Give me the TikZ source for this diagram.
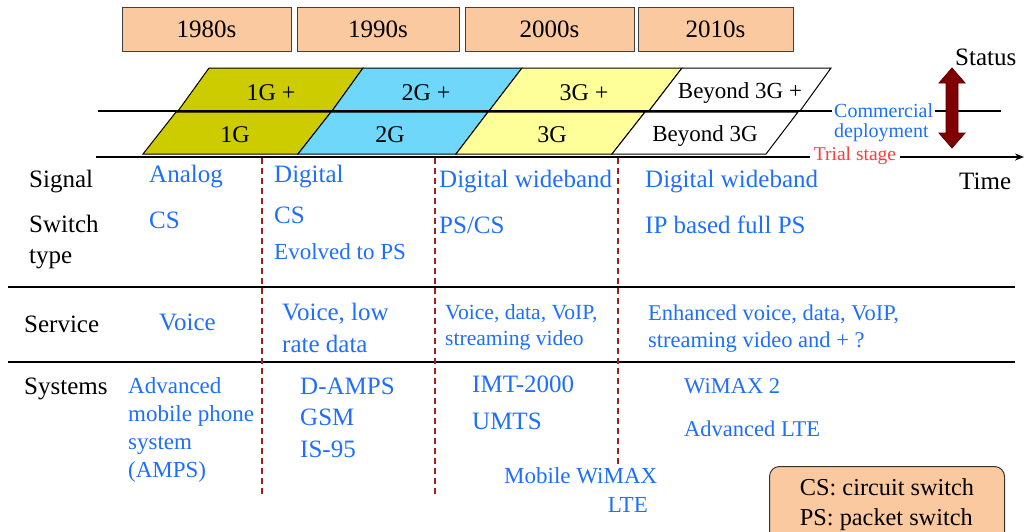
\documentclass[tikz,border=0pt]{standalone}
\usepackage{fontspec}
\setmainfont{Liberation Serif}
\usetikzlibrary{arrows.meta}
\definecolor{decadefill}{RGB}{251,201,160}
\definecolor{onegfill}{RGB}{204,204,0}
\definecolor{twogfill}{RGB}{110,215,250}
\definecolor{threegfill}{RGB}{255,255,153}
\definecolor{txtblue}{RGB}{30,110,255}
\definecolor{trialred}{RGB}{255,60,60}
\definecolor{sepred}{RGB}{160,30,30}
\definecolor{statusred}{RGB}{128,0,0}
\begin{document}
\begin{tikzpicture}[x=1pt,y=-1pt,
    decade/.style ={draw=black!75, fill=decadefill, line width=1pt, minimum height=44pt, font=\fontsize{25}{28}\selectfont},
    gen/.style ={draw=black, line width=1pt},
    genlabel/.style ={anchor=base, inner sep=0pt, font=\fontsize{24}{28}\selectfont},
    rowlabel/.style ={anchor=base west, inner sep=0pt, align=left, font=\fontsize{25}{31}\selectfont},
    blue/.style ={anchor=base west, inner sep=0pt, align=left, text=txtblue, font=\fontsize{25}{31}\selectfont},
    bluesmall/.style ={anchor=base west, inner sep=0pt, align=left, text=txtblue, font=\fontsize{22.5}{27}\selectfont},
    separator/.style ={sepred, line width=1.8pt, dash pattern=on 6pt off 4pt}]
   \useasboundingbox (0,0) rectangle (1025,531);
   % decades
   \node[decade, minimum width=169pt] (d80) at (206.5,29) {1980s};
   \node[decade, minimum width=162pt] (d90) at (378,29)   {1990s};
   \node[decade, minimum width=169pt] (d00) at (549.5,29) {2000s};
   \node[decade, minimum width=155pt] (d10) at (715.5,29) {2010s};
   % generations
   \draw[gen, fill=onegfill]   (209,68) -- (363,68) -- (332,111) -- (178,111) -- cycle;
   \draw[gen, fill=twogfill]   (363,68) -- (522,68) -- (489,111) -- (332,111) -- cycle;
   \draw[gen, fill=threegfill] (522,68) -- (682,68) -- (649,111) -- (489,111) -- cycle;
   \draw[gen, fill=white]      (682,68) -- (831,68) -- (800,111) -- (649,111) -- cycle;
   \draw[gen, fill=onegfill]   (176,112) -- (331,112) -- (298,154) -- (143,154) -- cycle;
   \draw[gen, fill=twogfill]   (331,112) -- (488,112) -- (456,154) -- (298,154) -- cycle;
   \draw[gen, fill=threegfill] (488,112) -- (645,112) -- (612,154) -- (456,154) -- cycle;
   \draw[gen, fill=white]      (645,112) -- (798,112) -- (766,154) -- (612,154) -- cycle;
   \node[genlabel] (g1p) at (271,100) {1G +};
   \node[genlabel] (g2p) at (426,100) {2G +};
   \node[genlabel] (g3p) at (584,100) {3G +};
   \node[genlabel, font=\fontsize{23}{28}\selectfont] (g4p) at (740,98) {Beyond 3G +};
   \node[genlabel] (g1) at (235,142) {1G};
   \node[genlabel] (g2) at (390,142) {2G};
   \node[genlabel] (g3) at (552,142) {3G};
   \node[genlabel, font=\fontsize{23}{28}\selectfont] (g4) at (705,141) {Beyond 3G};
   % status and time
   \coordinate (c0) at (98,111);
   \coordinate (c1) at (1001,111);
   \draw[line width=2pt] (c0) -- (c1);
   \coordinate (t0) at (96,157);
   \coordinate (t1) at (1024,157);
   \draw[line width=2pt, -{Stealth[length=9pt,width=7pt]}] (t0) -- (t1);
   \node[bluesmall, fill=white, inner xsep=2pt, inner ysep=1pt, font=\fontsize{20}{20}\selectfont] (comm) at (832,137) {Commercial\\deployment};
   \node[anchor=base, fill=white, inner xsep=4pt, inner ysep=1pt, text=trialred, font=\fontsize{19.5}{20}\selectfont] (trial) at (855,160) {Trial stage};
   \draw[fill=statusred, draw=statusred!70!black, line width=0.8pt]
      (952,68) -- (965,83) -- (958,83) -- (958,133) -- (965,133) -- (952,148)
      -- (939,133) -- (946,133) -- (946,83) -- (939,83) -- cycle;
   \node[rowlabel] (status) at (955,65) {Status};
   \node[rowlabel] (time) at (959,189) {Time};
   % table
   \draw[line width=1.5pt] (8,287) -- (1015,287);
   \draw[line width=1.5pt] (8,362) -- (1015,362);
   \draw[separator] (262,158) -- (262,497);
   \draw[separator] (435,158) -- (435,494);
   \draw[separator] (618,158) -- (618,467);
   \node[rowlabel] (signal) at (29,187) {Signal};
   \node[rowlabel] (switch) at (29,263) {Switch\\type};
   \node[rowlabel] (service) at (24,332) {Service};
   \node[rowlabel] (systems) at (24,394) {Systems};
   % 1G
   \node[blue] (sig1) at (149,182) {Analog};
   \node[blue] (sw1) at (149,228) {CS};
   \node[blue] (srv1) at (159,330) {Voice};
   \node[bluesmall, font=\fontsize{23}{28}\selectfont] (sys1) at (128,477) {Advanced\\mobile phone\\system\\(AMPS)};
   % 2G
   \node[blue] (sig2) at (274,182) {Digital};
   \node[blue] (sw2) at (274,223) {CS};
   \node[bluesmall, font=\fontsize{23}{28}\selectfont] (evo2) at (274,259) {Evolved to PS};
   \node[blue, font=\fontsize{25}{32}\selectfont] (srv2) at (282,352) {Voice, low\\rate data};
   \node[blue, font=\fontsize{25}{31.5}\selectfont] (sys2) at (300,457) {D-AMPS\\GSM\\IS-95};
   % 3G
   \node[blue] (sig3) at (439,187) {Digital wideband};
   \node[blue] (sw3) at (439,233) {PS/CS};
   \node[bluesmall, font=\fontsize{21.6}{26}\selectfont] (srv3) at (445,345) {Voice, data, VoIP,\\streaming video};
   \node[blue] (imt) at (472,392) {IMT-2000};
   \node[blue] (umts) at (472,429) {UMTS};
   \node[bluesmall, font=\fontsize{23}{29}\selectfont] (mob) at (504,483) {Mobile WiMAX};
   \node[bluesmall, font=\fontsize{23}{29}\selectfont, anchor=base east] (lte) at (648,512) {LTE};
   % beyond 3G
   \node[blue] (sig4) at (645,187) {Digital wideband};
   \node[blue] (sw4) at (645,233) {IP based full PS};
   \node[bluesmall] (srv4) at (648,347) {Enhanced voice, data, VoIP,\\streaming video and + ?};
   \node[bluesmall] (wimax) at (684,393) {WiMAX 2};
   \node[bluesmall] (alte) at (684,436) {Advanced LTE};
   % legend
   \node[draw=black!80, fill=decadefill, line width=1pt, rounded corners=10pt, anchor=north west,
      minimum width=235pt, minimum height=76pt, align=left, inner sep=4pt,
      font=\fontsize{24.3}{30}\selectfont] (key) at (769,466) {CS: circuit switch\\PS: packet switch};
\end{tikzpicture}
\end{document}
